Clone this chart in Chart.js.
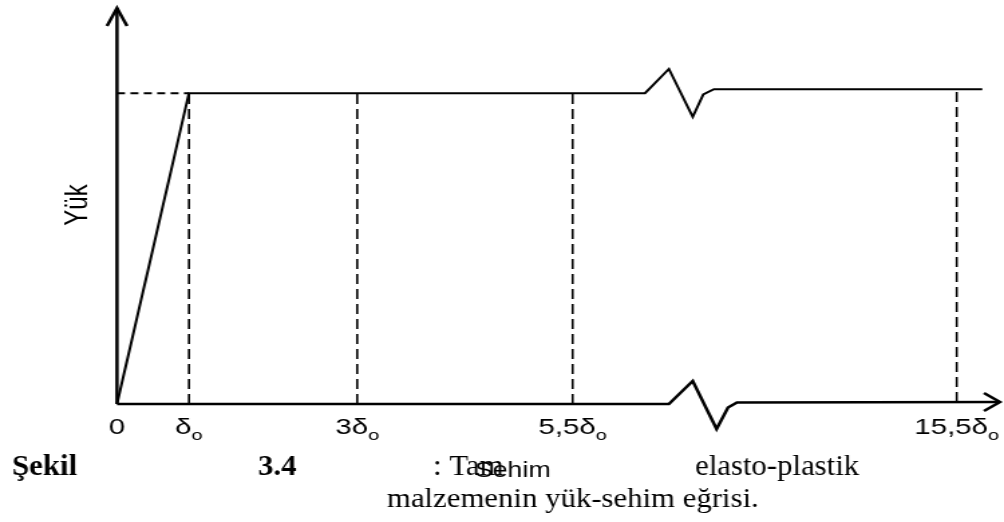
<!DOCTYPE html>
<html>
<head>
<meta charset="utf-8">
<script src="https://cdn.jsdelivr.net/npm/chart.js@4.4.1/dist/chart.umd.min.js"></script>
<style>
  html, body { margin:0; padding:0; background:#fff; overflow:hidden; }
</style>
</head>
<body>
<!-- the original figure is stretched sideways, so the canvas is too -->
<canvas id="chart" width="750" height="522" style="display:block;width:1004px;height:522px"></canvas>
<script>
// schematic x positions (figure is not to scale), 0..100 along the axis
const tickPos  = [0, 8.15, 27.2, 51.6, 95.1];
const tickMain = ["0", "δ", "3δ", "5,5δ", "15,5δ"];
const tickSub  = ["", "o", "o", "o", "o"];

// load-deflection curve, with the break drawn in
const curveX = [0, 8.15, 59.8, 62.5, 65.2, 66.4, 67.6, 98.0];
const curveY = [0, 78.5, 78.5, 84.6, 72.5, 78.2, 79.5, 79.5];

// x axis with the same break
const axisX = [0, 62.5, 65.2, 67.9, 69.2, 70.2, 100];
const axisY = [0, 0, 5.8, -6.3, -0.9, 0.4, 0.5];

// dashed guides
const guideX   = [8.15, 27.2, 51.6, 95.1];
const guideTop = [78.5, 78.5, 78.5, 79.5];
const guideBot = [0, 0, 0, 0.5];
const yieldLevel = 78.5;

const yMax = 100;

const SANS = '"Liberation Sans", Arial, sans-serif';
const SERIF = '"Liberation Serif", "Times New Roman", serif';

function pts(xs, ys) {
  return xs.map((v, i) => ({ x: v, y: ys[i] }));
}

function lineSet(data, width, dash) {
  return {
    data, borderColor:"#000", borderWidth:width, borderDash:dash || [],
    pointRadius:0, tension:0, fill:false, clip:false,
    borderJoinStyle:"miter", borderCapStyle:"butt"
  };
}

const datasets = [
  lineSet(pts([0, 0], [0, yMax]), 2.5),
  lineSet(pts(axisX, axisY), 2.5),
  lineSet(pts(curveX, curveY), 2),
  lineSet(pts([0, tickPos[1]], [yieldLevel, yieldLevel]), 2, [6, 4])
];
guideX.forEach((gx, i) => {
  datasets.push(lineSet(pts([gx, gx], [guideBot[i], guideTop[i]]), 1.6, [10, 5]));
});

// text squeezed sideways (the caption is less stretched than the chart)
function squeezed(ctx, str, x, y, font, sx) {
  ctx.save();
  ctx.translate(x, y);
  ctx.scale(sx, 1);
  ctx.font = font;
  ctx.fillText(str, 0, 0);
  ctx.restore();
}

const figureText = {
  id: "figureText",
  afterDatasetsDraw(chart) {
    const { ctx, scales:{ x, y } } = chart;
    ctx.save();
    ctx.fillStyle = "#000";
    ctx.strokeStyle = "#000";
    ctx.lineWidth = 2.5;
    ctx.lineJoin = "miter";

    // arrow heads
    const yx = x.getPixelForValue(0), yt = y.getPixelForValue(yMax);
    ctx.beginPath();
    ctx.moveTo(yx - 7.5, yt + 18); ctx.lineTo(yx, yt); ctx.lineTo(yx + 7.5, yt + 18);
    ctx.stroke();
    const ax = x.getPixelForValue(axisX[axisX.length - 1]);
    const ay = y.getPixelForValue(axisY[axisY.length - 1]);
    ctx.beginPath();
    ctx.moveTo(ax - 12, ay - 9); ctx.lineTo(ax, ay); ctx.lineTo(ax - 12, ay + 9);
    ctx.stroke();

    // tick labels with subscript o
    ctx.textBaseline = "alphabetic";
    ctx.textAlign = "left";
    tickPos.forEach((p, i) => {
      ctx.font = "22px " + SANS;
      const w1 = ctx.measureText(tickMain[i]).width;
      ctx.font = "15px " + SANS;
      const w2 = tickSub[i] ? ctx.measureText(tickSub[i]).width : 0;
      const left = x.getPixelForValue(p) - (w1 + w2) / 2;
      ctx.font = "22px " + SANS;
      ctx.fillText(tickMain[i], left, 434);
      if (tickSub[i]) {
        ctx.font = "15px " + SANS;
        ctx.fillText(tickSub[i], left + w1, 440);
      }
    });

    // axis titles
    ctx.save();
    ctx.translate(58.6, 205);
    ctx.rotate(-Math.PI / 2);
    ctx.textAlign = "center";
    ctx.textBaseline = "middle";
    ctx.font = "24px " + SANS;
    ctx.fillText("Yük", 0, 0);
    ctx.restore();

    ctx.textAlign = "center";
    squeezed(ctx, "Sehim", 383, 477, "22px " + SANS, 20 / 22);

    // caption
    ctx.textAlign = "left";
    const s1 = 23 / 29, s2 = 23 / 28;
    squeezed(ctx, "Şekil", 9, 475, "bold 29px " + SERIF, s1);
    squeezed(ctx, "3.4", 192.7, 475, "bold 29px " + SERIF, s1);
    squeezed(ctx, ": Tam", 323.5, 475, "29px " + SERIF, s1);
    squeezed(ctx, "elasto-plastik", 519.2, 475, "29px " + SERIF, s1);
    squeezed(ctx, "malzemenin yük-sehim eğrisi.", 289, 507, "28px " + SERIF, s2);

    ctx.restore();
  }
};

new Chart(document.getElementById("chart"), {
  type: "line",
  data: { datasets },
  options: {
    responsive: false,
    animation: false,
    layout: { padding: { left: 87.4, right: 3, top: 8, bottom: 78.4 } },
    plugins: { legend: { display:false }, tooltip: { enabled:false } },
    scales: {
      x: { type:"linear", display:false, min:0, max:100 },
      y: { type:"linear", display:false, min:-10, max:yMax }
    }
  },
  plugins: [figureText]
});
</script>
</body>
</html>
